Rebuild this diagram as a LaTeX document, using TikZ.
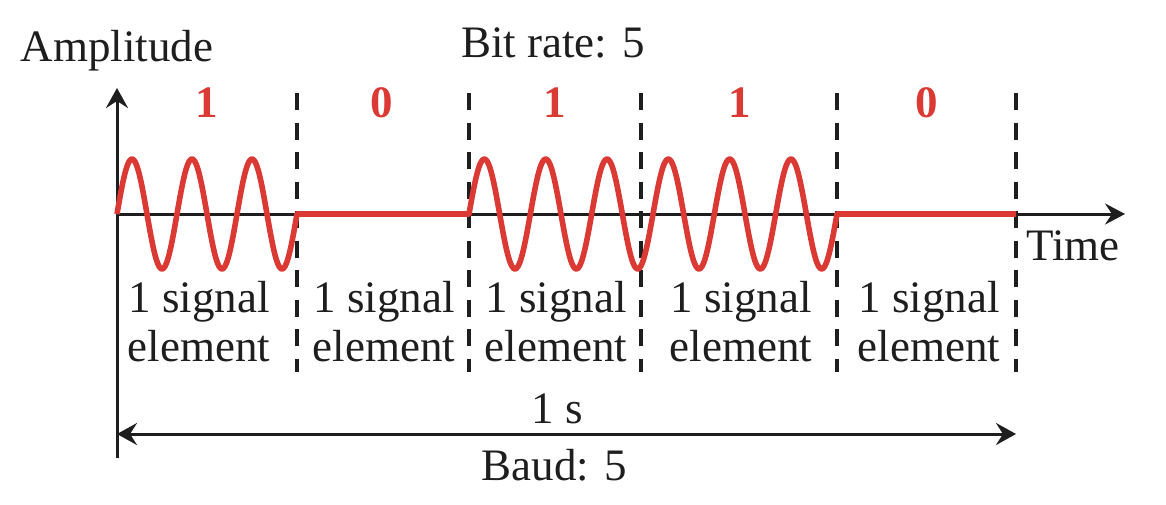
\documentclass[tikz,border=0pt]{standalone}
\usepackage{fontspec}
\setmainfont{Liberation Serif}
\usetikzlibrary{arrows.meta}
\definecolor{sigred}{RGB}{219,57,52}
\definecolor{ink}{RGB}{30,30,30}
\begin{document}
\begin{tikzpicture}[x=0.5pt,y=-0.5pt,
  axis/.style={line width=1.5pt, ink},
  dashline/.style={line width=1.6pt, ink, dash pattern=on 8.5pt off 6.25pt},
  wave/.style={line width=2.8pt, sigred, line join=round},
  bit/.style={font=\fontsize{22.5}{26}\selectfont\bfseries, text=sigred, anchor=base, inner sep=0pt},
  lbl/.style={font=\fontsize{22.5}{26}\selectfont, text=ink, anchor=base, inner sep=0pt},
]
\useasboundingbox (0,0) rectangle (1166,504);

% axes
\coordinate (O) at (117,214);
\coordinate (ytop) at (117,88);
\coordinate (ybot) at (117,458);
\coordinate (xend) at (1125,214);
\draw[axis, -{Stealth[length=10pt,width=11pt,inset=3.5pt]}] (ybot) -- (ytop);
\draw[axis, -{Stealth[length=10pt,width=10.5pt,inset=3.5pt]}] (O) -- (xend);

% dashed separators
\foreach \i/\dx in {1/297,2/469,3/641,4/837,5/1016} {
  \coordinate (dt\i) at (\dx,93);
  \coordinate (db\i) at (\dx,372);
  \draw[dashline] (dt\i) -- (db\i);
}

% signal
\draw[wave] plot[domain=117:297, samples=121, smooth] (\x,{214-55*sin(6*(\x-117))})
  -- (469,214)
  -- plot[domain=469:837, samples=241, smooth] (\x,{214-55*sin(5.86957*(\x-469))})
  -- (1016,214);

% bits
\node[bit] (b1) at (207,117) {1};
\node[bit] (b2) at (382,117) {0};
\node[bit] (b3) at (555,117) {1};
\node[bit] (b4) at (740,117) {1};
\node[bit] (b5) at (927,117) {0};

% labels
\node[lbl] (amp) at (117,61) {Amplitude};
\node[lbl] (br) at (553,57) {Bit rate: 5};
\node[lbl, anchor=base west] (time) at (1026,260) {Time};

\foreach \i/\cx in {1/199,2/384,3/556,4/741,5/929} {
  \node[lbl] (sa\i) at (\cx,312) {1 signal};
  \node[lbl] (sb\i) at (\cx,361) {element};
}

% 1 s span
\coordinate (sL) at (117,434);
\coordinate (sR) at (1016,434);
\draw[axis, {Stealth[length=10pt,width=11pt,inset=3.5pt]}-{Stealth[length=10pt,width=11pt,inset=3.5pt]}] (sL) -- (sR);
\node[lbl] (ones) at (557,423) {1 s};
\node[lbl] (baud) at (554,480) {Baud: 5};
\end{tikzpicture}
\end{document}
